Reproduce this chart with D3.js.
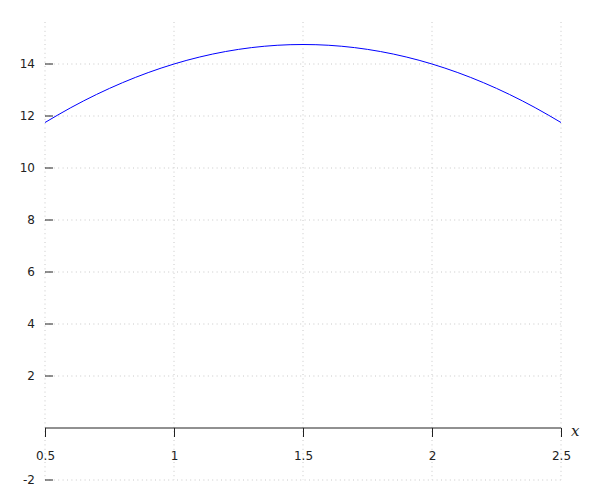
<!DOCTYPE html>
<html>
<head>
<meta charset="utf-8">
<script src="https://cdn.jsdelivr.net/npm/d3@7"></script>
<style>
  body { margin: 0; background: #fff; }
  text { font-family: "DejaVu Sans", sans-serif; font-size: 12px; fill: #222; }
</style>
</head>
<body>
<div class="chart"></div>
<script>
// values
var xValues = [0.5, 0.6, 0.7, 0.8, 0.9, 1.0, 1.1, 1.2, 1.3, 1.4, 1.5, 1.6, 1.7, 1.8, 1.9, 2.0, 2.1, 2.2, 2.3, 2.4, 2.5];
var yValues = [11.75, 12.32, 12.83, 13.28, 13.67, 14.0, 14.27, 14.48, 14.63, 14.72, 14.75, 14.72, 14.63, 14.48, 14.27, 14.0, 13.67, 13.28, 12.83, 12.32, 11.75];
var xTicks = [0.5, 1, 1.5, 2, 2.5];
var yTicks = [-2, 2, 4, 6, 8, 10, 12, 14];

var svgWidth = 600;
var svgHeight = 500;

var svg = d3.select(".chart")
  .append("svg")
  .attr("width", svgWidth)
  .attr("height", svgHeight);

var x = d3.scaleLinear().domain([0.5, 2.5]).range([45, 561]);
var y = d3.scaleLinear().domain([0, 14]).range([428, 64]);

var gridTop = 22;

// dotted grid
svg.append("g").selectAll("line")
  .data(xTicks)
  .enter()
  .append("line")
  .attr("x1", d => x(d)).attr("x2", d => x(d))
  .attr("y1", gridTop).attr("y2", y(-2))
  .attr("stroke", "#c8c8c8")
  .attr("stroke-dasharray", "1,3.4");

svg.append("g").selectAll("line")
  .data(yTicks)
  .enter()
  .append("line")
  .attr("x1", x(0.5)).attr("x2", x(2.5))
  .attr("y1", d => y(d)).attr("y2", d => y(d))
  .attr("stroke", "#c8c8c8")
  .attr("stroke-dasharray", "1,3.4");

// x axis at y = 0
var xAxis = d3.axisBottom(x)
  .tickValues(xTicks)
  .tickSize(9)
  .tickPadding(14)
  .tickFormat(d3.format("~g"));

var gx = svg.append("g")
  .attr("transform", "translate(0," + y(0) + ")")
  .call(xAxis);
gx.select(".domain").attr("stroke", "#222").attr("d", "M" + x(0.5) + ",0H" + x(2.5));
gx.selectAll(".tick line").attr("stroke", "#222");
gx.selectAll("text").style("font-size", "12px").attr("fill", "#222");

// y ticks only, no axis line
var gy = svg.append("g");
var yt = gy.selectAll("g")
  .data(yTicks)
  .enter()
  .append("g")
  .attr("transform", d => "translate(0," + y(d) + ")");
yt.append("line")
  .attr("x1", x(0.5)).attr("x2", x(0.5) + 8)
  .attr("stroke", "#222");
yt.append("text")
  .attr("x", x(0.5) - 10)
  .attr("dy", "0.35em")
  .attr("text-anchor", "end")
  .text(d => d);

// axis name
svg.append("text")
  .attr("x", 571)
  .attr("y", 436)
  .style("font-family", "'DejaVu Serif', serif")
  .style("font-style", "italic")
  .style("font-size", "15px")
  .text("x");

// curve
var line = d3.line()
  .x((d, i) => x(xValues[i]))
  .y(d => y(d))
  .curve(d3.curveMonotoneX);

svg.append("path")
  .datum(yValues)
  .attr("fill", "none")
  .attr("stroke", "#0000ff")
  .attr("stroke-width", 1)
  .attr("d", line);
</script>
</body>
</html>
